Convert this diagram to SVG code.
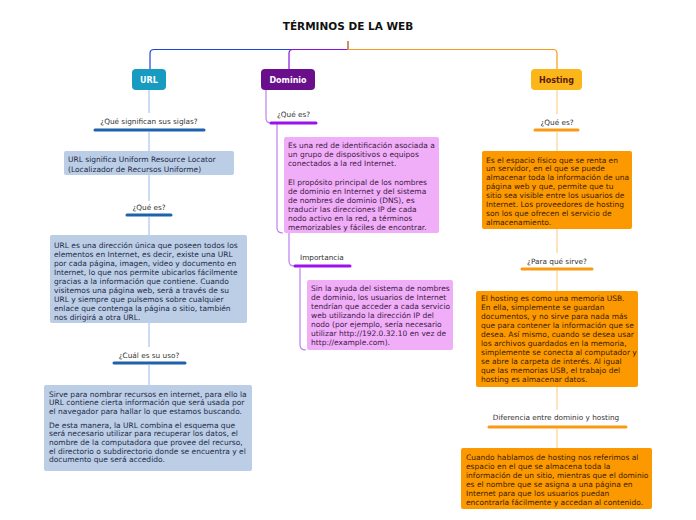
<svg xmlns="http://www.w3.org/2000/svg" width="696" height="520" viewBox="0 0 696 520">
<style>
text{font-family:"DejaVu Sans","Verdana",sans-serif}
.title{font-size:10.5px;font-weight:bold;fill:#111}
.node{font-size:8px;font-weight:bold}
.lbl{font-size:7.3px;fill:#333}
.t{font-size:7.5px}
.tb{fill:#1d2c47}
.tp{fill:#3e1a45}
.to{fill:#3a1d00}
.cb{fill:none;stroke:#a9c3f4;stroke-width:1.2}
.cp{fill:none;stroke:#bb80f2;stroke-width:1.2}
.co{fill:none;stroke:#fdd9a4;stroke-width:1.4}
.bar{stroke-width:3;stroke-linecap:round;fill:none}
</style>
<rect width="696" height="520" fill="#ffffff"/>
<text class="title" x="348" y="30" text-anchor="middle">TÉRMINOS DE LA WEB</text>

<g id="connectors">
<path d="M348,41 V49.5 H154 Q150,49.5 150,53.5 V69" fill="none" stroke="#1b47d8" stroke-width="1.2"/>
<path d="M348,49.5 H293 Q289,49.5 289,53.5 V69" fill="none" stroke="#8a14e0" stroke-width="1.2"/>
<path d="M348,41 V49.5 H553 Q557,49.5 557,53.5 V69" fill="none" stroke="#f99a1c" stroke-width="1.2"/>
<path class="cb" d="M149,90 V113 M149,132 V151 M149,175 V201 M149,217 V235 M149,323 V347 M149,365 V385"/>
<path class="cp" d="M266,90 V118 Q266,123 271,123"/>
<path class="cp" d="M277,124 V228 Q277,233 283,233"/>
<path class="cp" d="M289,233 V261 Q289,266 294,266"/>
<path class="cp" d="M300,268 V345 Q300,350 306,350"/>
<path class="co" d="M557,90 V114 M557,132 V151 M557,229 V253 M557,271 V291 M557,387 V410 M557,429 V448"/>
<path class="bar" stroke="#1f61ab" d="M95,130 H204 M127,215 H171 M114,363 H185"/>
<path class="bar" stroke="#9b12ee" d="M271,123 H316 M295,266 H350"/>
<path class="bar" stroke="#fa9a12" d="M535,130 H578 M522,269 H592 M489,427 H626"/>
</g>

<g id="url">
<rect x="132" y="69" width="34" height="21" rx="4" fill="#179bc0"/>
<text class="node" x="149" y="82.5" text-anchor="middle" fill="#ffffff">URL</text>
</g>
<g id="dominio">
<rect x="261" y="69" width="54" height="21" rx="4" fill="#6a0f8c"/>
<text class="node" x="288" y="82.5" text-anchor="middle" fill="#ffffff">Dominio</text>
</g>
<g id="hosting">
<rect x="531" y="69" width="51" height="21" rx="4" fill="#fbb619"/>
<text class="node" x="556.5" y="82.5" text-anchor="middle" fill="#5a1a0c">Hosting</text>
</g>

<g id="url-q1"><text class="lbl" x="149" y="124" text-anchor="middle">¿Qué significan sus siglas?</text></g>
<g id="url-a1">
<rect x="64" y="151" width="170" height="24" rx="2" fill="#bccde6"/>
<text class="t tb"><tspan x="68" y="161.5">URL significa Uniform Resource Locator</tspan><tspan x="68" y="171.5">(Localizador de Recursos Uniforme)</tspan></text>
</g>
<g id="url-q2"><text class="lbl" x="149" y="209.5" text-anchor="middle">¿Qué es?</text></g>
<g id="url-a2">
<rect x="50" y="235" width="197" height="88" rx="2" fill="#bccde6"/>
<text class="t tb"><tspan x="54" y="247.5">URL es una dirección única que poseen todos los</tspan><tspan x="54" y="256.6">elementos en Internet, es decir, existe una URL</tspan><tspan x="54" y="265.7">por cada página, imagen, video y documento en</tspan><tspan x="54" y="274.8">Internet, lo que nos permite ubicarlos fácilmente</tspan><tspan x="54" y="283.9">gracias a la información que contiene. Cuando</tspan><tspan x="54" y="293">visitemos una página web, será a través de su</tspan><tspan x="54" y="302.1">URL y siempre que pulsemos sobre cualquier</tspan><tspan x="54" y="311.2">enlace que contenga la página o sitio, también</tspan><tspan x="54" y="320.3">nos dirigirá a otra URL.</tspan></text>
</g>
<g id="url-q3"><text class="lbl" x="149" y="357.5" text-anchor="middle">¿Cuál es su uso?</text></g>
<g id="url-a3">
<rect x="44" y="385" width="208" height="86" rx="2" fill="#bccde6"/>
<text class="t tb"><tspan x="49" y="396.5">Sirve para nombrar recursos en internet, para ello la</tspan><tspan x="49" y="405.2">URL contiene cierta información que será usada por</tspan><tspan x="49" y="413.9">el navegador para hallar lo que estamos buscando.</tspan><tspan x="49" y="427.5">De esta manera, la URL combina el esquema que</tspan><tspan x="49" y="436.2">será necesario utilizar para recuperar los datos, el</tspan><tspan x="49" y="444.9">nombre de la computadora que provee del recurso,</tspan><tspan x="49" y="453.6">el directorio o subdirectorio donde se encuentra y el</tspan><tspan x="49" y="462.3">documento que será accedido.</tspan></text>
</g>

<g id="dom-q1"><text class="lbl" x="277" y="116.5">¿Qué es?</text></g>
<g id="dom-a1">
<rect x="284" y="137" width="155" height="96" rx="2" fill="#f0aef8"/>
<text class="t tp"><tspan x="288" y="147.5">Es una red de identificación asociada a</tspan><tspan x="288" y="156.5">un grupo de dispositivos o equipos</tspan><tspan x="288" y="165.5">conectados a la red Internet.</tspan><tspan x="288" y="184.5">El propósito principal de los nombres</tspan><tspan x="288" y="193.5">de dominio en Internet y del sistema</tspan><tspan x="288" y="202.5">de nombres de dominio (DNS), es</tspan><tspan x="288" y="211.5">traducir las direcciones IP de cada</tspan><tspan x="288" y="220.5">nodo activo en la red, a términos</tspan><tspan x="288" y="229.5">memorizables y fáciles de encontrar.</tspan></text>
</g>
<g id="dom-q2"><text class="lbl" x="300" y="259.5">Importancia</text></g>
<g id="dom-a2">
<rect x="307" y="280" width="146" height="70" rx="2" fill="#f0aef8"/>
<text class="t tp"><tspan x="311" y="290.5">Sin la ayuda del sistema de nombres</tspan><tspan x="311" y="299.5">de dominio, los usuarios de Internet</tspan><tspan x="311" y="308.5">tendrían que acceder a cada servicio</tspan><tspan x="311" y="317.5">web utilizando la dirección IP del</tspan><tspan x="311" y="326.5">nodo (por ejemplo, sería necesario</tspan><tspan x="311" y="335.5">utilizar http://192.0.32.10 en vez de</tspan><tspan x="311" y="344.5">http://example.com).</tspan></text>
</g>

<g id="host-q1"><text class="lbl" x="557" y="124.5" text-anchor="middle">¿Qué es?</text></g>
<g id="host-a1">
<rect x="482" y="151" width="150" height="78" rx="2" fill="#fd9900"/>
<text class="t to"><tspan x="486" y="162.5">Es el espacio físico que se renta en</tspan><tspan x="486" y="171.4">un servidor, en el que se puede</tspan><tspan x="486" y="180.3">almacenar toda la información de una</tspan><tspan x="486" y="189.2">página web y que, permite que tu</tspan><tspan x="486" y="198.1">sitio sea visible entre los usuarios de</tspan><tspan x="486" y="207">Internet. Los proveedores de hosting</tspan><tspan x="486" y="215.9">son los que ofrecen el servicio de</tspan><tspan x="486" y="224.8">almacenamiento.</tspan></text>
</g>
<g id="host-q2"><text class="lbl" x="557" y="263.5" text-anchor="middle">¿Para qué sirve?</text></g>
<g id="host-a2">
<rect x="476" y="291" width="162" height="96" rx="2" fill="#fd9900"/>
<text class="t to"><tspan x="481" y="300.5">El hosting es como una memoria USB.</tspan><tspan x="481" y="309.6">En ella, simplemente se guardan</tspan><tspan x="481" y="318.7">documentos, y no sirve para nada más</tspan><tspan x="481" y="327.8">que para contener la información que se</tspan><tspan x="481" y="336.9">desea. Así mismo, cuando se desea usar</tspan><tspan x="481" y="346">los archivos guardados en la memoria,</tspan><tspan x="481" y="355.1">simplemente se conecta al computador y</tspan><tspan x="481" y="364.2">se abre la carpeta de interés. Al igual</tspan><tspan x="481" y="373.3">que las memorias USB, el trabajo del</tspan><tspan x="481" y="382.4">hosting es almacenar datos.</tspan></text>
</g>
<g id="host-q3"><text class="lbl" x="556" y="419.5" text-anchor="middle">Diferencia entre dominio y hosting</text></g>
<g id="host-a3">
<rect x="461" y="448" width="191" height="61" rx="2" fill="#fd9900"/>
<text class="t to"><tspan x="466" y="459.5">Cuando hablamos de hosting nos referimos al</tspan><tspan x="466" y="468.5">espacio en el que se almacena toda la</tspan><tspan x="466" y="477.5">información de un sitio, mientras que el dominio</tspan><tspan x="466" y="486.5">es el nombre que se asigna a una página en</tspan><tspan x="466" y="495.5">Internet para que los usuarios puedan</tspan><tspan x="466" y="504.5">encontrarla fácilmente y accedan al contenido.</tspan></text>
</g>
</svg>
